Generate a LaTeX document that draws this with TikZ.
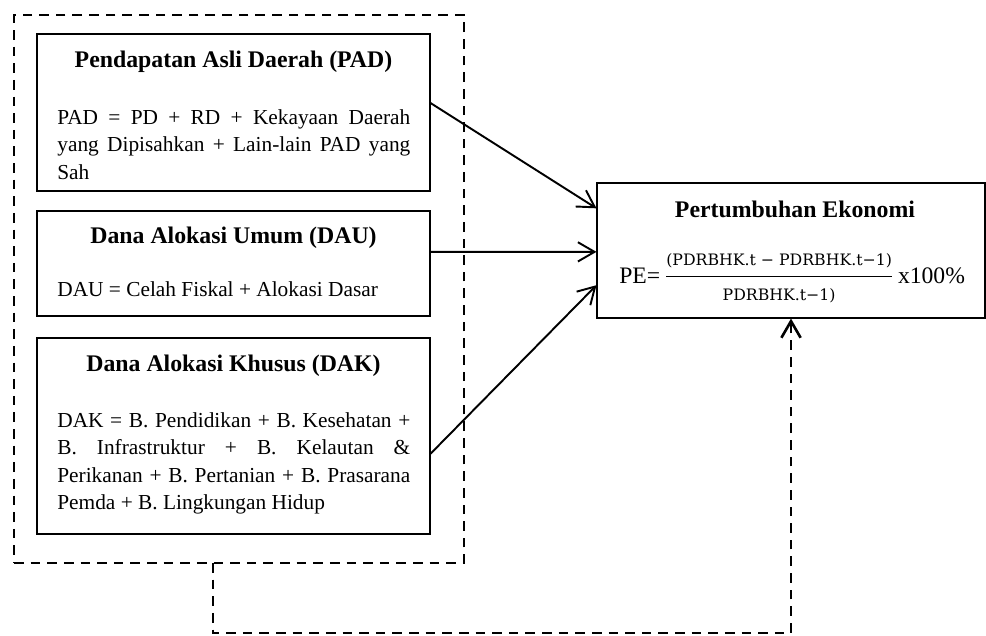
\documentclass[tikz,border=0pt]{standalone}
\usepackage{fontspec}
\setmainfont{Liberation Serif}
\newfontfamily\fracfont{DejaVu Serif}
\usetikzlibrary{arrows.meta,calc}

\begin{document}
\begin{tikzpicture}[x=0.5714pt, y=-0.5714pt]
	
	% ---- Adjustable sizes ----
	\def\unitpx{0.5714pt}
	\def\boxWidth{393}
	\def\lineWd{0.6pt}
	
	\tikzset{
		box/.style={draw, line width=\lineWd, minimum width=\boxWidth*\unitpx, inner sep=0pt},
		heading/.style={font=\fontsize{13.6}{16}\selectfont\bfseries, anchor=base, inner sep=0pt},
		bodytext/.style={font=\fontsize{12.2}{15.7}\selectfont, text width=201.7pt, align=justify, anchor=north west, inner sep=0pt},
		dashline/.style={line width=1.5pt, dash pattern=on 5.5pt off 4pt},
		link/.style={line width=1.1pt, -{Straight Barb[length=9.5pt, width=11pt]}}
	}
	
	\useasboundingbox (0,0) rectangle (986,635);
	
	% ---- Dashed frame round the three sources ----
	\node[draw, dashline, inner sep=0pt, minimum width=450*\unitpx, minimum height=548*\unitpx] (frame) at (239,289) {};
	
	% ---- Source boxes ----
	\node[box, minimum height=157*\unitpx] (pad) at (233.5,112.5) {};
	\node[box, minimum height=105*\unitpx] (dau) at (233.5,263.5) {};
	\node[box, minimum height=196*\unitpx] (dak) at (233.5,436) {};
	
	\node[heading] (padtitle) at (233.5,68) {Pendapatan Asli Daerah (PAD)};
	\node[bodytext] (padbody) at (57,104.8) {\strut PAD = PD + RD + Kekayaan Daerah\linebreak yang Dipisahkan + Lain-lain PAD yang\linebreak Sah};
	
	\node[heading] (dautitle) at (233.5,243) {Dana Alokasi Umum (DAU)};
	\node[bodytext] (daubody) at (57,276.8) {\strut DAU = Celah Fiskal + Alokasi Dasar};
	
	\node[heading] (daktitle) at (233.5,371) {Dana Alokasi Khusus (DAK)};
	\node[bodytext] (dakbody) at (57,407.8) {\strut DAK = B. Pendidikan + B. Kesehatan +\linebreak B. Infrastruktur + B. Kelautan \&\linebreak Perikanan + B. Pertanian + B. Prasarana\linebreak Pemda + B. Lingkungan Hidup};
	
	% ---- Target box ----
	\node[box, minimum width=388*\unitpx, minimum height=135*\unitpx] (pe) at (791,250.5) {};
	\node[heading] (petitle) at (795,217) {Pertumbuhan Ekonomi};
	\node[anchor=base west, inner sep=0pt, font=\fontsize{13.5}{15}\selectfont] (peformula) at (619,283)
		{PE=\,$\displaystyle\frac{\mbox{\fracfont\fontsize{9}{11}\selectfont (PDRBHK.t − PDRBHK.t−1)}}{\mbox{\fracfont\fontsize{9}{11}\selectfont PDRBHK.t−1)}}$\,x100\%};
	
	% ---- Arrows to the target ----
	\foreach \src/\fs/\fe in {pad/0.44/0.19, dau/0.39/0.51, dak/0.59/0.755}
	\draw[link] ($(\src.north east)!\fs!(\src.south east)$) -- ($(pe.north west)!\fe!(pe.south west)$);
	
	% ---- Feedback line ----
	\coordinate (fbstart) at (213,563);
	\coordinate (fbcorner) at (213,633);
	\draw[link, dashline] (fbstart) -- (fbcorner) -| (pe.south);
	
\end{tikzpicture}
\end{document}
